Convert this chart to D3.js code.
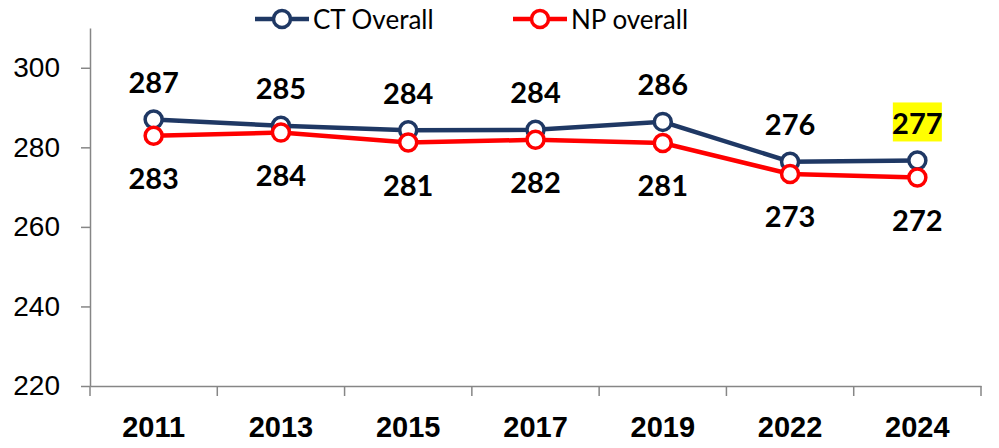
<!DOCTYPE html>
<html>
<head>
<meta charset="utf-8">
<script src="https://cdn.jsdelivr.net/npm/d3@7"></script>
<style>
  body { margin: 0; background: #fff; }
  svg { display: block; font-family: "Lato", "Liberation Sans", sans-serif; }
</style>
</head>
<body>
<svg id="chart" width="999" height="448"></svg>
<script>
// dados do gráfico
const anos = ["2011", "2013", "2015", "2017", "2019", "2022", "2024"];
const ctOverall = [287.0, 285.4, 284.3, 284.4, 286.4, 276.4, 276.7];
const npOverall = [282.9, 283.7, 281.2, 281.9, 281.1, 273.3, 272.4];
const yTicks = [220, 240, 260, 280, 300];

const series = [
  { nome: "CT Overall", valores: ctOverall, cor: "#1f3864", acima: true },
  { nome: "NP overall", valores: npOverall, cor: "#ff0000", acima: false }
];

const svg = d3.select("#chart");
const margemEsq = 90, margemDir = 981, margemSup = 28, margemInf = 386;

// escalas
const x = d3.scaleBand().domain(anos).range([margemEsq, margemDir]);
const y = d3.scaleLinear().domain([220, 310]).range([margemInf, margemSup]);
const cx = d => x(d) + x.bandwidth() / 2;

// eixo Y
const eixoY = svg.append("g")
  .attr("transform", `translate(${margemEsq},0)`)
  .call(d3.axisLeft(y).tickValues(yTicks).tickSize(9).tickPadding(21).tickSizeOuter(0));
eixoY.select(".domain").attr("stroke", "#868686").attr("stroke-width", 1.5);
eixoY.selectAll(".tick line").attr("stroke", "#868686").attr("stroke-width", 1.5);
eixoY.selectAll(".tick text")
  .attr("fill", "#000").style("font-size", "28px");

// eixo X
const eixoX = svg.append("g")
  .attr("transform", `translate(0,${margemInf})`)
  .call(d3.axisBottom(x).tickSize(0).tickPadding(30));
eixoX.select(".domain").attr("stroke", "#868686").attr("stroke-width", 1.5);
eixoX.selectAll(".tick text")
  .attr("fill", "#000").style("font-size", "29px").style("font-weight", "bold");
// marcas entre categorias
const limites = anos.map(a => x(a)).concat([margemDir]);
svg.append("g").selectAll("line").data(limites).join("line")
  .attr("x1", d => d).attr("x2", d => d)
  .attr("y1", margemInf).attr("y2", margemInf + 10)
  .attr("stroke", "#868686").attr("stroke-width", 1.5);

// linhas e marcadores
const linha = d3.line().x((d, i) => cx(anos[i])).y(d => y(d));
series.forEach(s => {
  svg.append("path")
    .datum(s.valores)
    .attr("fill", "none")
    .attr("stroke", s.cor)
    .attr("stroke-width", 4.5)
    .attr("d", linha);
});
series.forEach(s => {
  svg.append("g").selectAll("circle").data(s.valores).join("circle")
    .attr("cx", (d, i) => cx(anos[i]))
    .attr("cy", d => y(d))
    .attr("r", 8.5)
    .attr("fill", "#fff")
    .attr("stroke", s.cor)
    .attr("stroke-width", 3.5);
});

// rótulos de dados
series.forEach(s => {
  const g = svg.append("g");
  s.valores.forEach((v, i) => {
    const px = cx(anos[i]);
    const py = s.acima ? y(v) - 38 : y(v) + 42;
    if (s.acima && i === anos.length - 1) {
      g.append("rect")
        .attr("x", px - 24.5).attr("y", py - 20)
        .attr("width", 49).attr("height", 39)
        .attr("fill", "#ffff00");
    }
    g.append("text")
      .attr("x", px).attr("y", py)
      .attr("text-anchor", "middle")
      .attr("dominant-baseline", "central")
      .style("font-size", "29px").style("font-weight", "bold")
      .text(Math.round(v));
  });
});

// legenda
const legendaX = [255, 513];
series.forEach((s, i) => {
  const g = svg.append("g").attr("transform", `translate(${legendaX[i]},19)`);
  g.append("line").attr("x1", 0).attr("x2", 54).attr("y1", 0).attr("y2", 0)
    .attr("stroke", s.cor).attr("stroke-width", 4.5);
  g.append("circle").attr("cx", 27).attr("cy", 0).attr("r", 8.5)
    .attr("fill", "#fff").attr("stroke", s.cor).attr("stroke-width", 3.5);
  g.append("text").attr("x", 58).attr("y", 0)
    .attr("dominant-baseline", "central")
    .style("font-size", "26px")
    .text(s.nome);
});
</script>
</body>
</html>
